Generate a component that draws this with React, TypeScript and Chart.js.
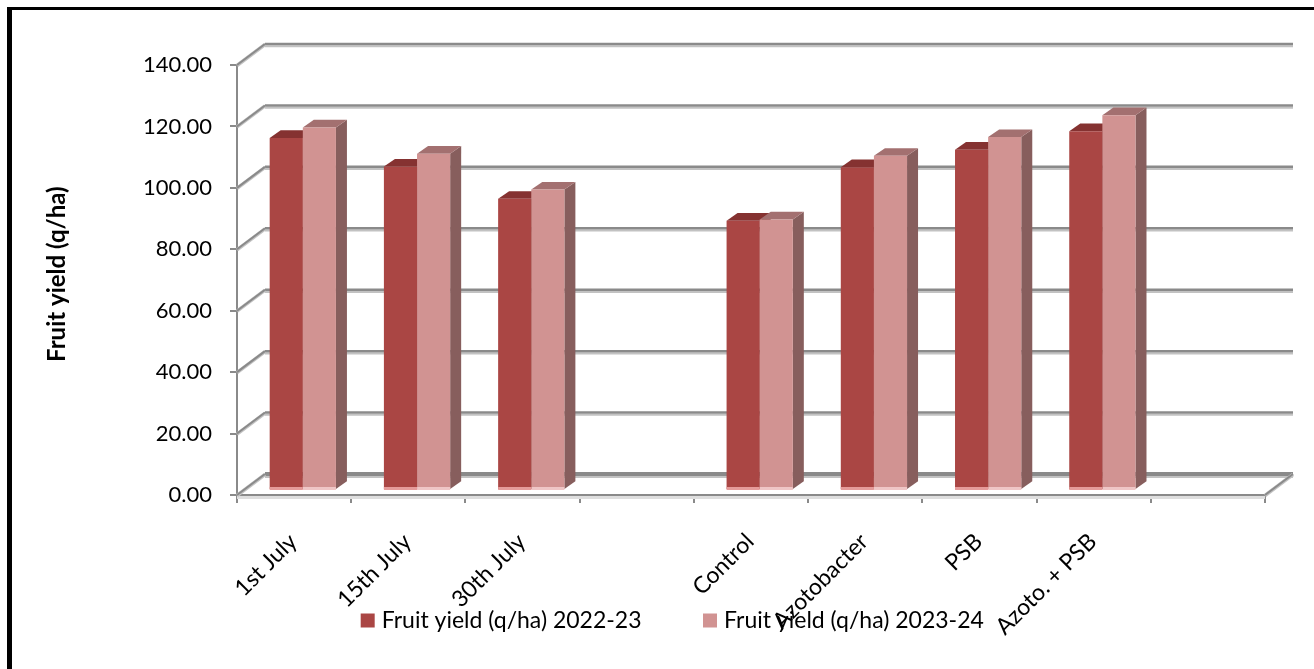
import React, { useEffect, useRef } from "react";
import { Chart, registerables } from "chart.js";

Chart.register(...registerables);

const categories = ["1st July", "15th July", "30th July", "", "Control", "Azotobacter", "PSB", "Azoto. + PSB", ""];
const yield2022 = [114.6, 105.3, 94.8, null, 87.7, 105.1, 110.8, 116.8, null];
const yield2023 = [118.0, 109.5, 97.8, null, 88.1, 108.8, 114.9, 122.0, null];
const seriesNames = ["Fruit yield (q/ha) 2022-23", "Fruit yield (q/ha) 2023-24"];
const axisTitle = "Fruit yield (q/ha)";

const FONT = "Lato, 'Open Sans', sans-serif";
const GREY = "#8a8a8a";
const GREY_SOFT = "#c2c2c2";

// Box projection: how far the back wall sits from the front plane.
const WALL_DX = 28;
const WALL_DY = 21;
// Plane the bars stand on, and the depth of each bar.
const BAR_SHIFT_X = 8.7;
const BAR_SHIFT_Y = 5;
const BAR_DX = 11;
const BAR_DY = 7.7;

const barFaces = [
  { top: "#853231", side: "#6e2b2a", foot: "#e59b9a" },
  { top: "#a37070", side: "#875e5d", foot: "#efc6c6" },
];

const line = (ctx: CanvasRenderingContext2D, x1: number, y1: number, x2: number, y2: number, color: string, width: number) => {
  ctx.strokeStyle = color;
  ctx.lineWidth = width;
  ctx.beginPath();
  ctx.moveTo(x1, y1);
  ctx.lineTo(x2, y2);
  ctx.stroke();
};

const poly = (ctx: CanvasRenderingContext2D, pts: number[][], color: string) => {
  ctx.fillStyle = color;
  ctx.beginPath();
  pts.forEach(([x, y], i) => (i ? ctx.lineTo(x, y) : ctx.moveTo(x, y)));
  ctx.closePath();
  ctx.fill();
};

// Yields each drawn bar of a dataset with its pixel geometry, skipping empty categories.
const eachBar = (chart: any, index: number, fn: (b: { x: number; y: number; base: number; width: number }) => void) => {
  const values = chart.data.datasets[index].data;
  chart.getDatasetMeta(index).data.forEach((bar: any, i: number) => {
    if (values[i] == null) return;
    fn(bar.getProps(["x", "y", "base", "width"], true));
  });
};

const box3d = {
  id: "box3d",
  // The legend is centred on the page and overlaps the lower axis labels,
  // so the category axis box is extended to keep those labels unclipped.
  afterLayout(chart: any) {
    const lg = chart.legend;
    lg.left += 48;
    lg.top -= 27;
    lg.bottom -= 27;
    chart.scales.x.bottom = chart.height;
  },
  beforeDatasetsDraw(chart: any) {
    const { ctx, chartArea, scales } = chart;
    const { left, right, bottom } = chartArea;
    ctx.save();
    ctx.lineCap = "butt";
    // Front edge of the floor casts a pale band.
    ctx.fillStyle = "#dedede";
    ctx.fillRect(left, bottom + 1, right - left, 3);
    scales.y.ticks.forEach((t: any) => {
      const y = scales.y.getPixelForValue(t.value);
      const thick = t.value === 0 ? 4 : 2.5;
      line(ctx, left + WALL_DX, y - WALL_DY + thick / 2 + 1, right + WALL_DX, y - WALL_DY + thick / 2 + 1, GREY_SOFT, 2);
      line(ctx, left + WALL_DX, y - WALL_DY, right + WALL_DX, y - WALL_DY, GREY, thick);
      line(ctx, left, y + 0.5, left + WALL_DX, y - WALL_DY + 0.5, GREY_SOFT, 3.5);
      line(ctx, left, y, left + WALL_DX, y - WALL_DY, GREY, 2);
    });
    line(ctx, right, bottom + 0.5, right + WALL_DX, bottom - WALL_DY + 0.5, GREY_SOFT, 3.5);
    line(ctx, right, bottom, right + WALL_DX, bottom - WALL_DY, GREY, 2);
    ctx.restore();
    // Bars stand a little behind the front plane of the box.
    ctx.save();
    ctx.translate(BAR_SHIFT_X, -BAR_SHIFT_Y);
  },
  // The second series is painted first, so both sets of depth faces go down here:
  // the first series' faces sit behind the neighbouring bar.
  beforeDatasetDraw(chart: any, args: any) {
    if (args.index !== 1) return;
    const { ctx } = chart;
    [0, 1].forEach((index) => {
      const faces = barFaces[index];
      eachBar(chart, index, ({ x, y, base, width }) => {
        const l = x - width / 2;
        const r = x + width / 2;
        poly(ctx, [[r, y], [r + BAR_DX, y - BAR_DY], [r + BAR_DX, base - BAR_DY], [r, base]], faces.side);
        poly(ctx, [[l, y], [r, y], [r + BAR_DX, y - BAR_DY], [l + BAR_DX, y - BAR_DY]], faces.top);
      });
    });
  },
  afterDatasetDraw(chart: any, args: any) {
    const { ctx } = chart;
    eachBar(chart, args.index, ({ x, base, width }) => {
      ctx.fillStyle = barFaces[args.index].foot;
      ctx.fillRect(x - width / 2, base - 2, width, 3);
    });
  },
  afterDatasetsDraw(chart: any) {
    chart.ctx.restore();
  },
};

export default function App() {
  const ref = useRef<HTMLCanvasElement>(null);

  useEffect(() => {
    const chart = new Chart(ref.current!, {
      type: "bar",
      data: {
        labels: categories,
        datasets: [
          { label: seriesNames[0], data: yield2022, backgroundColor: "#aa4644" },
          { label: seriesNames[1], data: yield2023, backgroundColor: "#d19392" },
        ],
      },
      plugins: [box3d],
      options: {
        responsive: false,
        animation: false,
        layout: { padding: { top: 65, right: 49, bottom: 0, left: 36 } },
        datasets: { bar: { categoryPercentage: 0.58, barPercentage: 1, borderWidth: 0, clip: false } },
        scales: {
          x: {
            afterFit: (s: any) => {
              s.height = 75;
            },
            border: { color: GREY, width: 2 },
            grid: { drawOnChartArea: false, color: GREY, lineWidth: 2, tickLength: 8 },
            ticks: {
              autoSkip: false,
              minRotation: 45,
              maxRotation: 45,
              padding: 25,
              labelOffset: -1,
              color: "#000",
              font: { family: FONT, size: 23 },
            },
          },
          y: {
            min: 0,
            max: 140,
            afterFit: (s: any) => {
              s.width = 237 - 36;
            },
            title: {
              display: true,
              text: "  " + axisTitle,
              color: "#000",
              font: { family: FONT, size: 24, weight: "bold" },
              padding: { top: 7, bottom: 0 },
            },
            border: { color: GREY, width: 2 },
            grid: { drawOnChartArea: false, color: GREY, lineWidth: 2, tickLength: 7 },
            ticks: {
              stepSize: 20,
              padding: 18,
              color: "#000",
              font: { family: FONT, size: 22 },
              callback: (v: any) => Number(v).toFixed(2),
            },
          },
        },
        plugins: {
          tooltip: { enabled: false },
          legend: {
            position: "bottom",
            labels: {
              usePointStyle: true,
              pointStyle: "rect",
              boxWidth: 5,
              boxHeight: 14,
              padding: 66,
              color: "#000",
              font: { family: FONT, size: 23 },
            },
          },
        },
      },
    } as any);
    return () => chart.destroy();
  }, []);

  return (
    <>
      <div
        style={{
          position: "fixed",
          left: 7,
          top: 7,
          right: 0,
          bottom: 0,
          borderLeft: "5px solid #000",
          borderTop: "3px solid #000",
        }}
      />
      <canvas ref={ref} width={1314} height={669} style={{ position: "fixed", left: 0, top: 0 }} />
    </>
  );
}
